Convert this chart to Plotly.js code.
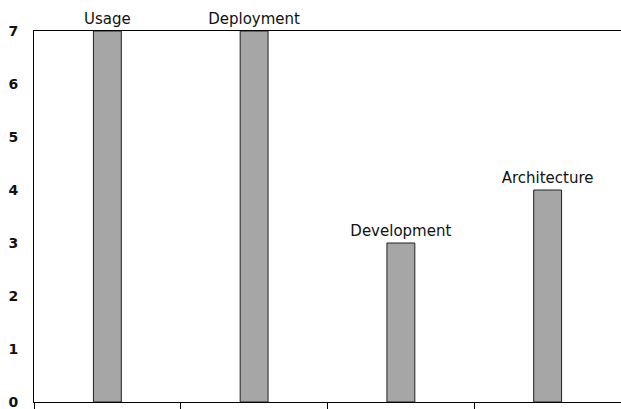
<!DOCTYPE html>
<html>
<head>
<meta charset="utf-8">
<script src="https://cdn.plot.ly/plotly-3.0.1.min.js"></script>
<style>html,body{margin:0;padding:0;background:#fff;}#chart{width:621px;height:409px;}</style>
</head>
<body>
<div id="chart"></div>
<script>
var categories = ["Usage", "Deployment", "Development", "Architecture"];
var values = [7, 7, 3, 4];
var yTicks = [0, 1, 2, 3, 4, 5, 6, 7];

var trace = {
  type: 'bar',
  x: categories,
  y: values,
  text: categories,
  textposition: 'outside',
  constraintext: 'none',
  cliponaxis: false,
  textfont: {family: '"DejaVu Sans", sans-serif', size: 15, color: '#111'},
  width: 0.19,
  marker: {color: '#a6a6a6', line: {color: '#222', width: 1}},
  hoverinfo: 'none'
};

var layout = {
  width: 621, height: 409,
  margin: {l: 34, r: 0, t: 31, b: 7},
  paper_bgcolor: '#fff', plot_bgcolor: '#fff',
  showlegend: false,
  xaxis: {
    type: 'category', range: [-0.5, 3.5],
    showticklabels: false, tickson: 'boundaries',
    ticks: 'outside', ticklen: 7, tickcolor: '#000', tickwidth: 1,
    showline: true, linecolor: '#000', linewidth: 1, mirror: true,
    showgrid: false, zeroline: false
  },
  yaxis: {
    range: [0, 7], tickvals: yTicks, ticktext: yTicks.map(String),
    tickfont: {family: '"DejaVu Sans", sans-serif', size: 14, color: '#111', weight: 'bold'},
    ticklabelstandoff: 12, ticklabeloverflow: 'allow',
    showline: true, linecolor: '#000', linewidth: 1,
    showgrid: false, zeroline: false, ticks: ''
  }
};

Plotly.newPlot('chart', [trace], layout, {staticPlot: true, displayModeBar: false});
</script>
</body>
</html>
